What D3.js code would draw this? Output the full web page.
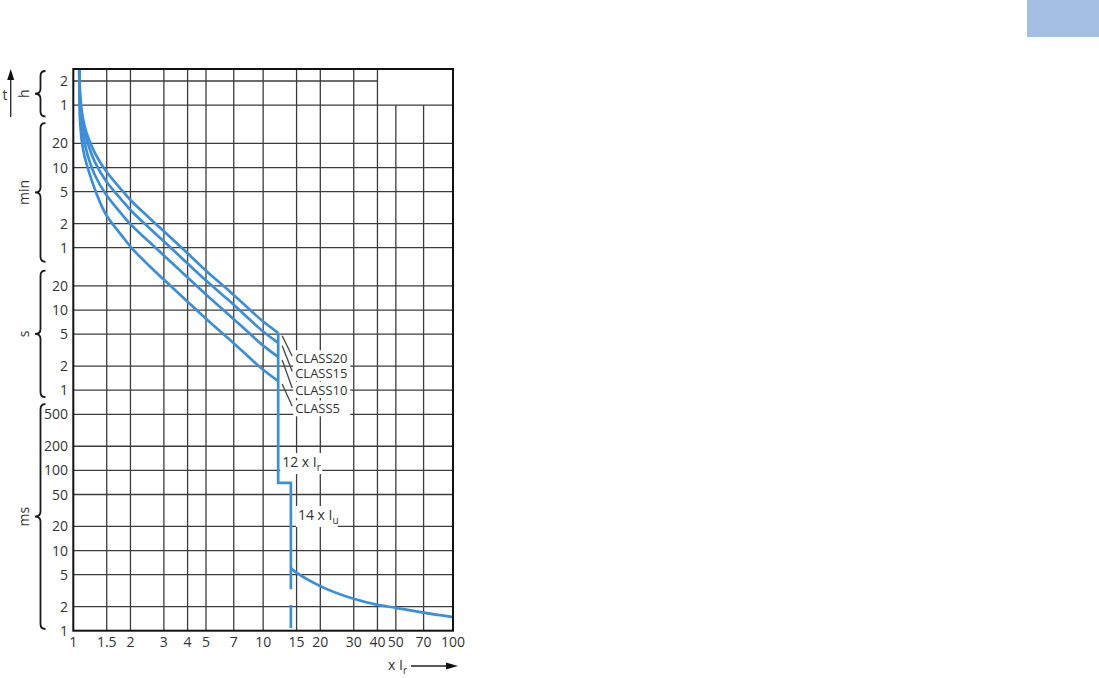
<!DOCTYPE html>
<html>
<head>
<meta charset="utf-8">
<script src="https://cdn.jsdelivr.net/npm/d3@7"></script>
<style>
  body { margin: 0; background: #fff; }
  svg text { font-family: "Open Sans", "Noto Sans", sans-serif; fill: #333; }
</style>
</head>
<body>
<svg id="surface" width="1099" height="678"></svg>
<script>
// tick values (x = multiple of Ir, y = seconds)
const xTicks = [1, 1.5, 2, 3, 4, 5, 7, 10, 15, 20, 30, 40, 50, 70, 100];
const yTicks = [7200, 3600, 1200, 600, 300, 120, 60, 20, 10, 5, 2, 1,
  0.5, 0.2, 0.1, 0.05, 0.02, 0.01, 0.005, 0.002, 0.001];
const yLabels = ["2", "1", "20", "10", "5", "2", "1", "20", "10", "5", "2", "1",
  "500", "200", "100", "50", "20", "10", "5", "2", "1"];

// unit brackets on the left
const sections = ["h", "min", "s", "ms"];
const sectionTop = [9600, 2150, 31, 0.67];
const sectionBottom = [2600, 40, 0.82, 0.00105];

// thermal trip curves
const classNames = ["CLASS5", "CLASS10", "CLASS15", "CLASS20"];
const currentMult = [1.075, 1.08, 1.09, 1.11, 1.15, 1.2, 1.3, 1.5, 1.8, 2, 2.5, 3, 4, 5, 6.5, 8, 10, 12];
const class5Sec = [10170, 3000, 2000, 1250, 800, 560, 320, 150, 85, 62, 36, 24, 12.7, 7.8, 4.5, 2.9, 1.8, 1.3];
const class10Sec = [10170, 4400, 3000, 1900, 1200, 800, 480, 268, 157, 118, 71.5, 48, 25.5, 15.6, 9.0, 5.8, 3.6, 2.6];
const class15Sec = [10170, 5500, 3800, 2450, 1600, 1150, 700, 395, 236, 177, 107, 72, 38, 23.3, 13.6, 8.7, 5.4, 3.9];
const class20Sec = [10170, 6600, 4550, 2950, 1920, 1400, 910, 527, 314, 236, 143, 96, 51, 31, 18, 11.6, 7.2, 5.2];

// short-circuit step (12 x Ir, 14 x Iu)
const stepI = [12, 12, 14, 14];
const stepSec = [5.2, 0.07, 0.07, 0.0033];
const dashI = [14, 14];
const dashSec = [0.0021, 0.00108];

// instantaneous tail
const tailI = [14, 15, 20, 30, 40, 50, 70, 100];
const tailMs = [6.0, 5.3, 3.6, 2.5, 2.1, 1.93, 1.68, 1.48];

const BLUE = "#3b8edb";
const GRID = "#3c3c3c";

let surface = d3.select("#surface");
let xScale = d3.scaleLog().domain([1, 100]).range([73.3, 453]);
let yScale = d3.scaleLog().domain([0.001, 10170]).range([630.7, 69]);

drawGrid();
drawCurves();
drawLabels();
drawAxes();

function drawGrid() {
  let g = surface.append("g");
  // vertical lines; 50 and 70 start at the 1h line
  g.selectAll(".vline").data(xTicks.slice(1, -1)).enter().append("line")
    .attr("x1", (d) => xScale(d)).attr("x2", (d) => xScale(d))
    .attr("y1", (d) => d > 40 ? yScale(3600) : yScale.range()[1])
    .attr("y2", yScale.range()[0])
    .attr("stroke", GRID).attr("stroke-width", 1.3);
  // horizontal lines; the 2h line stops at 40
  g.selectAll(".hline").data(yTicks.slice(0, -1)).enter().append("line")
    .attr("x1", xScale.range()[0])
    .attr("x2", (d) => d == 7200 ? xScale(40) : xScale.range()[1])
    .attr("y1", (d) => yScale(d)).attr("y2", (d) => yScale(d))
    .attr("stroke", GRID).attr("stroke-width", 1.3);
}

function drawCurves() {
  // y goes down monotonically along every curve
  let line = d3.line()
    .x((d) => xScale(d[0]))
    .y((d) => yScale(d[1]))
    .curve(d3.curveMonotoneY);
  let series = [class5Sec, class10Sec, class15Sec, class20Sec];
  for (let s of series) {
    surface.append("path")
      .attr("d", line(currentMult.map((c, i) => [c, s[i]])))
      .attr("fill", "none").attr("stroke", BLUE).attr("stroke-width", 2.7);
  }

  let straight = d3.line().x((d) => xScale(d[0])).y((d) => yScale(d[1]));
  surface.append("path")
    .attr("d", straight(stepI.map((c, i) => [c, stepSec[i]])))
    .attr("fill", "none").attr("stroke", BLUE).attr("stroke-width", 2.7);
  surface.append("path")
    .attr("d", straight(dashI.map((c, i) => [c, dashSec[i]])))
    .attr("fill", "none").attr("stroke", BLUE).attr("stroke-width", 2.7);
  surface.append("path")
    .attr("d", d3.line().x((d) => xScale(d[0])).y((d) => yScale(d[1])).curve(d3.curveMonotoneX)(
      tailI.map((c, i) => [c, tailMs[i] / 1000])))
    .attr("fill", "none").attr("stroke", BLUE).attr("stroke-width", 2.7);
}

function drawLabels() {
  // class labels with leader lines
  let ends = [class5Sec, class10Sec, class15Sec, class20Sec].map((s) => s[s.length - 1]);
  let labelY = [408.3, 390, 373.3, 358.3];
  let xEnd = xScale(12);
  classNames.forEach((name, i) => {
    surface.append("rect")
      .attr("x", xEnd + 15).attr("y", labelY[i] - 8)
      .attr("width", 57).attr("height", 16).attr("fill", "#fff");
  });
  classNames.forEach((name, i) => {
    surface.append("line")
      .attr("x1", xEnd + 4).attr("y1", yScale(ends[i]) + 3)
      .attr("x2", xEnd + 14).attr("y2", labelY[i] - 2)
      .attr("stroke", "#444").attr("stroke-width", 1.3);
    surface.append("text")
      .attr("x", xEnd + 17).attr("y", labelY[i] + 4.5)
      .attr("font-size", 13).text(name);
  });

  // 12 x Ir and 14 x Iu
  let marks = [["12 x I", "r", xScale(12) + 2, 467], ["14 x I", "u", xScale(14) + 5, 520]];
  for (let m of marks) {
    surface.append("rect").attr("x", m[2]).attr("y", m[3] - 14)
      .attr("width", 42).attr("height", 21).attr("fill", "#fff");
    let t = surface.append("text").attr("x", m[2] + 2).attr("y", m[3]).attr("font-size", 14);
    t.append("tspan").text(m[0]);
    t.append("tspan").attr("dy", 4).attr("font-size", 10).text(m[1]);
  }
}

function drawAxes() {
  // plot frame
  surface.append("rect")
    .attr("x", xScale.range()[0]).attr("y", yScale.range()[1])
    .attr("width", xScale.range()[1] - xScale.range()[0])
    .attr("height", yScale.range()[0] - yScale.range()[1])
    .attr("fill", "none").attr("stroke", "#111").attr("stroke-width", 2);

  // tick labels
  surface.selectAll(".xlab").data(xTicks).enter().append("text")
    .attr("x", (d) => xScale(d)).attr("y", 647)
    .attr("text-anchor", "middle").attr("font-size", 14).text((d) => d);
  surface.selectAll(".ylab").data(yTicks).enter().append("text")
    .attr("x", 68).attr("y", (d) => yScale(d) + 5)
    .attr("text-anchor", "end").attr("font-size", 14)
    .text((d, i) => yLabels[i]);

  // braces + unit names
  sections.forEach((name, i) => {
    let top = yScale(sectionTop[i]);
    let bot = yScale(sectionBottom[i]);
    let mid = (top + bot) / 2;
    let p = `M45.5,${top} Q40.5,${top} 40.5,${top + 5} L40.5,${mid - 5} Q40.5,${mid} 35,${mid}`
      + ` Q40.5,${mid} 40.5,${mid + 5} L40.5,${bot - 5} Q40.5,${bot} 45.5,${bot}`;
    surface.append("path").attr("d", p).attr("fill", "none")
      .attr("stroke", "#1a1a1a").attr("stroke-width", 1.8);
    surface.append("text")
      .attr("transform", `translate(29,${mid}) rotate(-90)`)
      .attr("text-anchor", "middle").attr("font-size", 14).text(name);
  });

  // t arrow
  surface.append("line").attr("x1", 10.7).attr("x2", 10.7).attr("y1", 117).attr("y2", 78)
    .attr("stroke", "#222").attr("stroke-width", 1.3);
  surface.append("path").attr("d", "M10.7,69 L7.2,80 L14.2,80 Z").attr("fill", "#111");
  surface.append("text").attr("x", 5).attr("y", 100).attr("text-anchor", "middle")
    .attr("font-size", 14).text("t");

  // x I_r arrow
  let xl = surface.append("text").attr("x", 388).attr("y", 670).attr("font-size", 14);
  xl.append("tspan").text("x I");
  xl.append("tspan").attr("dy", 4).attr("font-size", 10).text("r");
  surface.append("line").attr("x1", 411).attr("x2", 448).attr("y1", 666).attr("y2", 666)
    .attr("stroke", "#222").attr("stroke-width", 1.3);
  surface.append("path").attr("d", "M458,666 L446,662.5 L446,669.5 Z").attr("fill", "#111");

  // corner tab
  surface.append("rect").attr("x", 1027).attr("y", 0).attr("width", 72).attr("height", 37)
    .attr("fill", "#a3bfe3");
}
</script>
</body>
</html>
